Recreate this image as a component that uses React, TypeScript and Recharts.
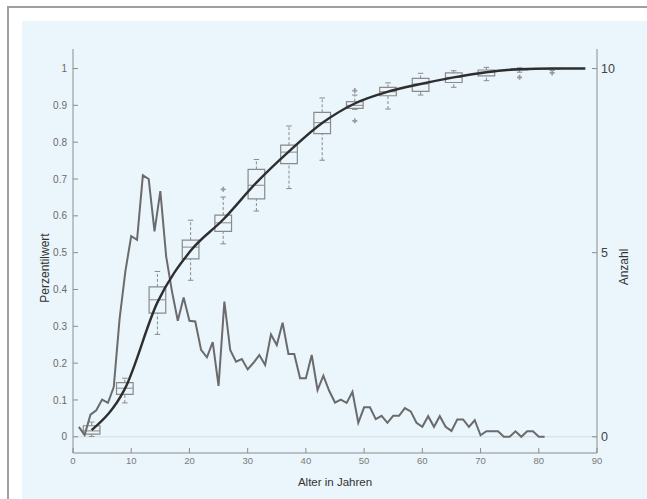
import React from 'react';
import {
  ComposedChart,
  Line,
  XAxis,
  YAxis,
  ZAxis,
  ReferenceArea,
  ReferenceLine,
  Scatter,
} from 'recharts';

// Count per age ("Anzahl", right axis)
const ages = [
  1, 2, 3, 4, 5, 6, 7, 8, 9, 10, 11, 12, 13, 14, 15, 16, 17, 18, 19, 20,
  21, 22, 23, 24, 25, 26, 27, 28, 29, 30, 31, 32, 33, 34, 35, 36, 37, 38, 39, 40,
  41, 42, 43, 44, 45, 46, 47, 48, 49, 50, 51, 52, 53, 54, 55, 56, 57, 58, 59, 60,
  61, 62, 63, 64, 65, 66, 67, 68, 69, 70, 71, 72, 73, 74, 75, 76, 77, 78, 79, 80, 81,
];
const counts = [
  0.27, 0.05, 0.6, 0.72, 1.01, 0.92, 1.35, 3.2, 4.5, 5.45, 5.35, 7.1, 7.0, 5.58, 6.67, 4.9, 3.95, 3.15, 3.78, 3.15,
  3.13, 2.36, 2.16, 2.57, 1.38, 3.67, 2.36, 2.04, 2.11, 1.83, 2.01, 2.22, 1.95, 2.78, 2.49, 3.1, 2.25, 2.25, 1.59, 1.59,
  2.22, 1.27, 1.66, 1.25, 0.93, 1.01, 0.92, 1.22, 0.38, 0.8, 0.8, 0.48, 0.57, 0.38, 0.57, 0.57, 0.78, 0.69, 0.38, 0.27,
  0.56, 0.27, 0.56, 0.27, 0.16, 0.47, 0.47, 0.27, 0.45, 0.04, 0.15, 0.15, 0.15, 0.0, 0.0, 0.15, 0.0, 0.15, 0.15, 0.0, 0.0,
];

// Fitted percentile curve (left axis)
const curveAges = [3.2, 8.9, 14.5, 20.2, 25.8, 31.5, 37.1, 42.8, 48.4, 54.1, 59.7, 65.4, 71.0, 76.7, 82.3, 88];
const curveValues = [0.018, 0.13, 0.365, 0.505, 0.59, 0.69, 0.775, 0.852, 0.905, 0.937, 0.958, 0.976, 0.99, 0.998, 1.0, 1.0];

// Box plots (left axis)
const boxAges = [3.2, 8.9, 14.5, 20.2, 25.8, 31.5, 37.1, 42.8, 48.4, 54.1, 59.7, 65.4, 71.0, 76.7, 82.3];
const boxLow = [0.001, 0.092, 0.278, 0.425, 0.524, 0.613, 0.674, 0.751, 0.889, 0.89, 0.928, 0.949, 0.967, 0.99, 0.995];
const boxQ1 = [0.007, 0.115, 0.336, 0.483, 0.558, 0.646, 0.742, 0.823, 0.892, 0.926, 0.938, 0.962, 0.98, 0.996, 0.999];
const boxMed = [0.016, 0.132, 0.372, 0.515, 0.581, 0.683, 0.773, 0.853, 0.9, 0.937, 0.958, 0.976, 0.99, 0.999, 1.0];
const boxQ3 = [0.03, 0.147, 0.407, 0.534, 0.602, 0.726, 0.792, 0.881, 0.91, 0.949, 0.973, 0.988, 0.996, 1.0, 1.0];
const boxHigh = [0.04, 0.159, 0.449, 0.588, 0.651, 0.753, 0.844, 0.92, 0.928, 0.961, 0.987, 0.994, 1.003, 1.002, 1.0];
const outlierAges = [25.8, 48.4, 48.4, 76.7, 82.3];
const outlierValues = [0.672, 0.94, 0.858, 0.976, 0.988];

const xTicks = [0, 10, 20, 30, 40, 50, 60, 70, 80, 90];
const leftTicks = [0, 0.1, 0.2, 0.3, 0.4, 0.5, 0.6, 0.7, 0.8, 0.9, 1];
const rightTicks = [0, 5, 10];

const countData = ages.map((a, i) => ({ x: a, y: counts[i] }));
const curveData = curveAges.map((a, i) => ({ x: a, y: curveValues[i] }));
const outlierData = outlierAges.map((a, i) => ({ x: a, y: outlierValues[i] }));

const BOX_HALF = 1.43;
const CAP_HALF = 0.47;
const BOX_COLOR = '#8a8a8a';
const AXIS_COLOR = '#8c8c8c';
const FONT = '"Liberation Sans", Arial, Helvetica, sans-serif';

export default function App() {
  return (
    <div
      style={{
        position: 'absolute',
        left: 0,
        top: 0,
        width: 647,
        height: 499,
        overflow: 'hidden',
        background: '#ffffff',
        fontFamily: FONT,
      }}
    >
      <div
        style={{
          position: 'absolute',
          left: 7,
          top: 6,
          width: 700,
          height: 600,
          borderLeft: '2px solid #a0a0a0',
          borderTop: '2px solid #a0a0a0',
          boxSizing: 'border-box',
        }}
      />
      <div
        style={{
          position: 'absolute',
          left: 22,
          top: 21,
          width: 700,
          height: 600,
          background: '#eaf5fc',
        }}
      />
      <div style={{ position: 'absolute', left: 0, top: 0 }}>
        <ComposedChart
          width={647}
          height={499}
          margin={{ top: 49, right: 10, bottom: 16, left: 13 }}
          style={{ fontFamily: FONT }}
        >
          <XAxis
            type="number"
            dataKey="x"
            domain={[0, 90]}
            ticks={xTicks}
            allowDataOverflow
            height={30}
            stroke={AXIS_COLOR}
            tickSize={-5}
            tickMargin={9}
            tick={{ fill: '#7a7a7a', fontSize: 9.5 }}
          />
          <YAxis
            yAxisId="left"
            orientation="left"
            type="number"
            domain={[-0.044, 1.053]}
            ticks={leftTicks}
            allowDataOverflow
            width={60}
            stroke={AXIS_COLOR}
            tickSize={-5}
            tickMargin={11}
            tick={{ fill: '#6a6a6a', fontSize: 10 }}
          />
          <YAxis
            yAxisId="right"
            orientation="right"
            type="number"
            domain={[-0.44, 10.53]}
            ticks={rightTicks}
            allowDataOverflow
            width={40}
            stroke={AXIS_COLOR}
            tickSize={-5}
            tickMargin={9}
            tick={{ fill: '#444444', fontSize: 12.5 }}
          />
          <ZAxis range={[14, 14]} />
          <ReferenceLine yAxisId="left" y={0} stroke="#d3dde3" strokeWidth={1} />

          {boxAges.map((a, i) => (
            <ReferenceLine
              key={`wu${i}`}
              yAxisId="left"
              segment={[{ x: a, y: boxQ3[i] }, { x: a, y: boxHigh[i] }]}
              stroke={BOX_COLOR}
              strokeDasharray="3 2"
              ifOverflow="visible"
            />
          ))}
          {boxAges.map((a, i) => (
            <ReferenceLine
              key={`wl${i}`}
              yAxisId="left"
              segment={[{ x: a, y: boxLow[i] }, { x: a, y: boxQ1[i] }]}
              stroke={BOX_COLOR}
              strokeDasharray="3 2"
              ifOverflow="visible"
            />
          ))}
          {boxAges.map((a, i) => (
            <ReferenceLine
              key={`cu${i}`}
              yAxisId="left"
              segment={[{ x: a - CAP_HALF, y: boxHigh[i] }, { x: a + CAP_HALF, y: boxHigh[i] }]}
              stroke={BOX_COLOR}
              ifOverflow="visible"
            />
          ))}
          {boxAges.map((a, i) => (
            <ReferenceLine
              key={`cl${i}`}
              yAxisId="left"
              segment={[{ x: a - CAP_HALF, y: boxLow[i] }, { x: a + CAP_HALF, y: boxLow[i] }]}
              stroke={BOX_COLOR}
              ifOverflow="visible"
            />
          ))}
          {boxAges.map((a, i) => (
            <ReferenceArea
              key={`b${i}`}
              yAxisId="left"
              x1={a - BOX_HALF}
              x2={a + BOX_HALF}
              y1={boxQ1[i]}
              y2={boxQ3[i]}
              fill="none"
              fillOpacity={0}
              stroke={BOX_COLOR}
              strokeWidth={1.2}
              ifOverflow="visible"
            />
          ))}
          {boxAges.map((a, i) => (
            <ReferenceLine
              key={`m${i}`}
              yAxisId="left"
              segment={[{ x: a - BOX_HALF, y: boxMed[i] }, { x: a + BOX_HALF, y: boxMed[i] }]}
              stroke={BOX_COLOR}
              ifOverflow="visible"
            />
          ))}

          <Scatter
            yAxisId="left"
            data={outlierData}
            dataKey="y"
            shape="cross"
            fill="#9a9a9a"
            isAnimationActive={false}
          />

          <Line
            yAxisId="right"
            data={countData}
            dataKey="y"
            type="linear"
            stroke="#6b6b6b"
            strokeWidth={2}
            dot={false}
            activeDot={false}
            isAnimationActive={false}
          />
          <Line
            yAxisId="left"
            data={curveData}
            dataKey="y"
            type="monotone"
            stroke="#2e2e2e"
            strokeWidth={2.4}
            dot={false}
            activeDot={false}
            isAnimationActive={false}
          />
        </ComposedChart>
      </div>
      <div
        style={{
          position: 'absolute',
          left: 45,
          top: 268,
          transform: 'translate(-50%, -50%) rotate(-90deg)',
          fontSize: 12,
          color: '#333333',
          whiteSpace: 'nowrap',
        }}
      >
        Perzentilwert
      </div>
      <div
        style={{
          position: 'absolute',
          left: 624,
          top: 267,
          transform: 'translate(-50%, -50%) rotate(-90deg)',
          fontSize: 12,
          color: '#333333',
          whiteSpace: 'nowrap',
        }}
      >
        Anzahl
      </div>
      <div
        style={{
          position: 'absolute',
          left: 335,
          top: 482,
          transform: 'translate(-50%, -50%)',
          fontSize: 11.5,
          color: '#333333',
          whiteSpace: 'nowrap',
        }}
      >
        Alter in Jahren
      </div>
    </div>
  );
}
